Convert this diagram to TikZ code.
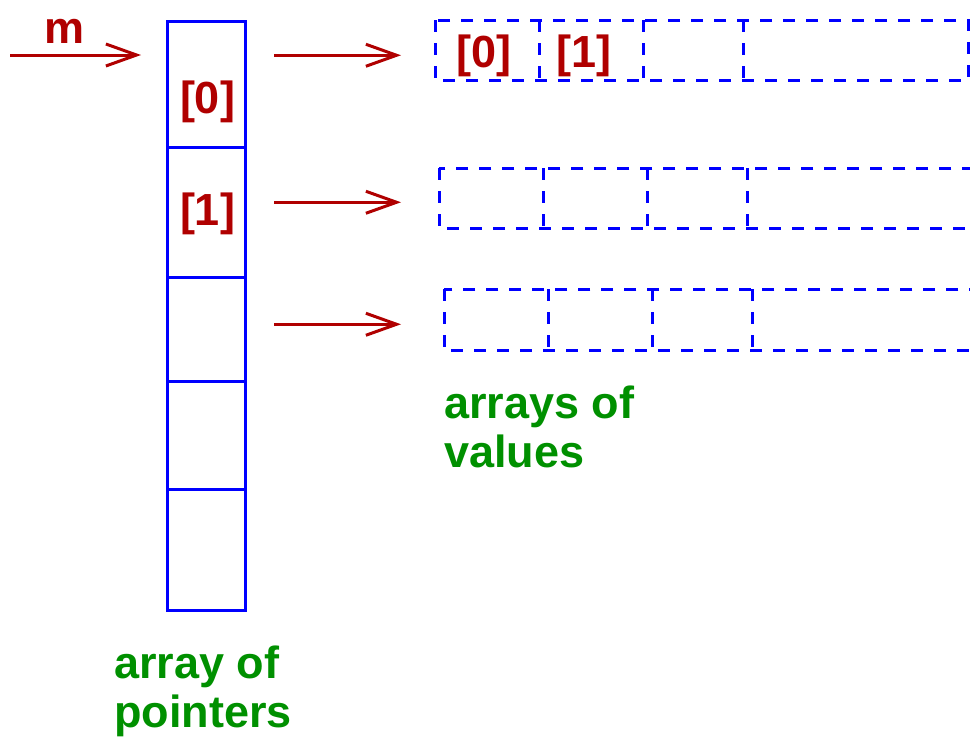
\documentclass[tikz,border=0pt]{standalone}
\usepackage{fontspec}
\setmainfont{Liberation Sans}[BoldFont={Liberation Sans Bold}]
\newfontfamily\lsbold{Liberation Sans Bold}
\usetikzlibrary{arrows.meta,calc}
\definecolor{xred}{RGB}{176,0,0}
\definecolor{xblue}{RGB}{0,0,255}
\definecolor{xgreen}{RGB}{0,144,0}
\tikzset{
  pcell/.style={draw=xblue, line width=2.25pt, minimum width=58.5pt, inner sep=0pt, anchor=north west},
  vcell/.style={minimum width=78pt, minimum height=45pt, inner sep=0pt, anchor=north west},
  dline/.style={draw=xblue, line width=2.25pt, dash pattern=on 9pt off 8.25pt},
  ptr/.style={draw=xred, line width=2.25pt, -{Straight Barb[length=23pt,width=16.5pt,line width=2.25pt]}},
  redlbl/.style={text=xred, font=\lsbold\fontsize{33.75}{36.75}\selectfont, inner sep=0pt, anchor=base},
  greenlbl/.style={text=xgreen, font=\lsbold\fontsize{33.75}{36.75}\selectfont, inner sep=0pt, anchor=base west, align=left}
}
\begin{document}
\begin{tikzpicture}[x=0.75pt,y=-0.75pt]
\useasboundingbox[fill=white] (0,0) rectangle (970,736);
% array of pointers
\node[pcell, minimum height=94.5pt] (p0) at (166,20) {};
\node[pcell, minimum height=97.5pt] (p1) at (166,146) {};
\node[pcell, minimum height=78pt] (p2) at (166,276) {};
\node[pcell, minimum height=81pt] (p3) at (166,380) {};
\node[pcell, minimum height=90.75pt] (p4) at (166,488) {};
\node[redlbl] (l0) at (207.5,113) {[0]};
\node[redlbl] (l1) at (207.5,225) {[1]};
% arrays of values (cells)
\node[vcell] (a0) at (435,20) {};
\node[vcell] (a1) at (539,20) {};
\node[vcell, minimum width=75pt] (a2) at (643,20) {};
\node[vcell, minimum width=168.75pt] (a3) at (743,20) {};
\node[vcell] (b0) at (439,168) {};
\node[vcell] (b1) at (543,168) {};
\node[vcell, minimum width=75pt] (b2) at (647,168) {};
\node[vcell, minimum width=200pt] (b3) at (747,168) {};
\node[vcell, minimum height=45.75pt] (c0) at (444,289) {};
\node[vcell, minimum height=45.75pt] (c1) at (548,289) {};
\node[vcell, minimum height=45.75pt, minimum width=75pt] (c2) at (652,289) {};
\node[vcell, minimum height=45.75pt, minimum width=200pt] (c3) at (752,289) {};
\begin{scope}
\clip (0,0) rectangle (970,736);
% row 1 outline and dividers
\draw[dline] (a0.north west) rectangle (a3.south east);
\draw[dline] (a1.north west) -- (a1.south west);
\draw[dline] (a2.north west) -- (a2.south west);
\draw[dline] (a3.north west) -- (a3.south west);
% row 2
\draw[dline] (b0.north west) rectangle (b3.south east);
\draw[dline] (b1.north west) -- (b1.south west);
\draw[dline] (b2.north west) -- (b2.south west);
\draw[dline] (b3.north west) -- (b3.south west);
% row 3
\draw[dline] (c0.north west) rectangle (c3.south east);
\draw[dline] (c1.north west) -- (c1.south west);
\draw[dline] (c2.north west) -- (c2.south west);
\draw[dline] (c3.north west) -- (c3.south west);
\end{scope}
\node[redlbl] (v0) at (484,67) {[0]};
\node[redlbl] (v1) at (584,67) {[1]};
% pointer m
\coordinate (mstart) at (10,55);
\node[redlbl] (m) at (65,43) {m};
\draw[ptr] (mstart) -- ($(p0.north west)+(-25,35)$);
% pointers to value arrays
\draw[ptr] ($(p0.east |- a0.west)+(27,5)$) -- ($(a0.west)+(-34,5)$);
\draw[ptr] ($(p1.east |- b0.west)+(27,4)$) -- ($(b0.west)+(-38,4)$);
\draw[ptr] ($(p2.east |- c0.west)+(27,4.5)$) -- ($(c0.west)+(-43,4.5)$);
% captions
\node[greenlbl] (cap1) at (114,727) {array of\\pointers};
\node[greenlbl] (cap2) at (444,467) {arrays of\\values};
\end{tikzpicture}
\end{document}
